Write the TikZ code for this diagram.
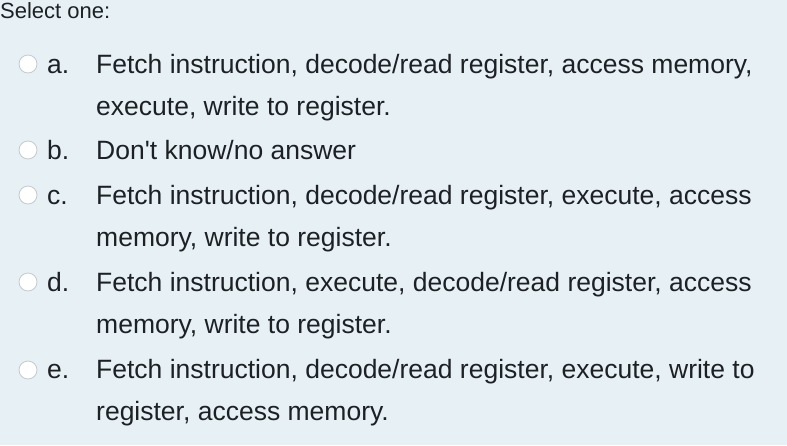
\documentclass[tikz,border=0pt]{standalone}
\usepackage{fontspec}
\setmainfont{Liberation Sans}
\definecolor{quizbg}{HTML}{E7F1F5}
\definecolor{quiztext}{HTML}{1D2125}
\definecolor{radiogray}{HTML}{C4CACF}
\tikzset{
  opttext/.style={anchor=base west, inner sep=0pt, text=quiztext, font=\fontsize{26.5}{30}\selectfont},
  radio/.style={circle, draw=radiogray, fill=white, line width=0.8pt, minimum size=18pt, inner sep=0pt}
}
\begin{document}
\begin{tikzpicture}[x=1pt,y=-1pt]
    % background
    \fill[quizbg] (0,0) rectangle (787,445);
    \useasboundingbox (0,0) rectangle (787,445);

    \node[opttext, font=\fontsize{22}{26}\selectfont] (select) at (0,18) {Select one:};

    % options: radio y, first baseline, label, lines
    \foreach \name/\ry/\by/\lab/\la/\lb in {
        a/64/73/a./{Fetch instruction, decode/read register, access memory,}/{execute, write to register.},
        b/150/159/b./{Don\textquotesingle t know/no answer}/{},
        c/195/204/c./{Fetch instruction, decode/read register, execute, access}/{memory, write to register.},
        d/282/291/d./{Fetch instruction, execute, decode/read register, access}/{memory, write to register.},
        e/370/378/e./{Fetch instruction, decode/read register, execute, write to}/{register, access memory.}}{
        \node[radio] (radio\name) at (28,\ry) {};
        \node[opttext] (lab\name) at (47,\by) {\lab};
        \node[opttext] (line\name) at (96,\by) {\la};
        \node[opttext] (cont\name) at (96,\by+42) {\lb};
    }
\end{tikzpicture}
\end{document}
